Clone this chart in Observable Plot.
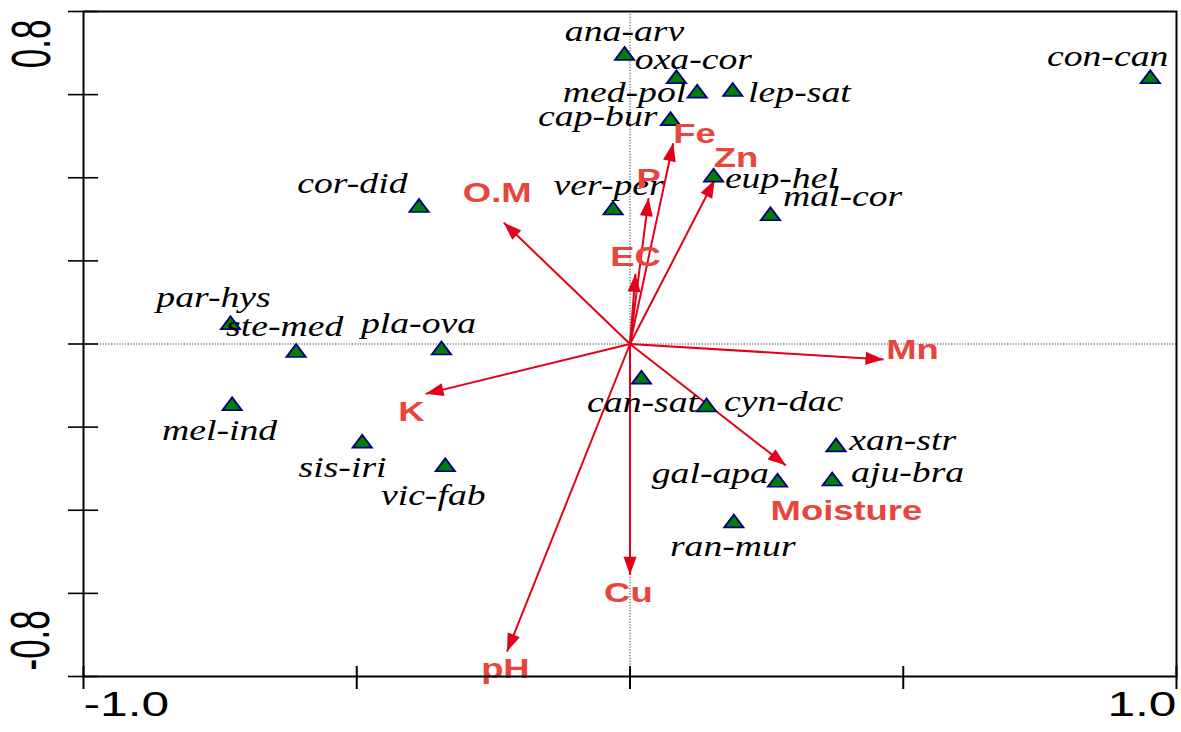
<!DOCTYPE html>
<html>
<head>
<meta charset="utf-8">
<script src="https://cdn.jsdelivr.net/npm/d3@7"></script>
<script src="https://cdn.jsdelivr.net/npm/@observablehq/plot@0.6"></script>
<style>
  html, body { margin: 0; padding: 0; background: white; }
  #chart svg { display: block; }
</style>
</head>
<body>
<div id="chart"></div>
<script>
// ---- Species scores (triangles) ----
const speciesNames = ["ana-arv","oxa-cor","med-pol","lep-sat","cap-bur","eup-hel","ver-per","mal-cor","cor-did","con-can","par-hys","ste-med","pla-ova","mel-ind","sis-iri","vic-fab","can-sat","cyn-dac","xan-str","gal-apa","aju-bra","ran-mur"];
const speciesX = [-0.010, 0.085, 0.123, 0.188, 0.074, 0.153, -0.031, 0.257, -0.386, 0.952, -0.731, -0.611, -0.345, -0.728, -0.490, -0.338, 0.021, 0.140, 0.377, 0.270, 0.370, 0.190];
const speciesY = [0.694, 0.638, 0.603, 0.607, 0.537, 0.401, 0.322, 0.308, 0.328, 0.638, 0.046, -0.021, -0.015, -0.149, -0.239, -0.296, -0.085, -0.152, -0.248, -0.333, -0.330, -0.431];
// species label positions (label centres)
const speciesLabelX = [-0.010, 0.116, -0.010, 0.310, -0.059, 0.277, -0.039, 0.389, -0.508, 0.874, -0.762, -0.632, -0.387, -0.751, -0.526, -0.360, 0.023, 0.281, 0.499, 0.147, 0.508, 0.188];
const speciesLabelY = [0.745, 0.677, 0.598, 0.598, 0.540, 0.390, 0.373, 0.347, 0.378, 0.684, 0.104, 0.034, 0.041, -0.217, -0.304, -0.373, -0.149, -0.147, -0.241, -0.320, -0.318, -0.494];

// ---- Environmental vectors (arrows) ----
const envNames = ["O.M","Fe","Zn","P","EC","Mn","K","Moisture","Cu","pH"];
const envX = [-0.231, 0.079, 0.155, 0.034, 0.010, 0.464, -0.374, 0.285, 0.000, -0.225];
const envY = [0.292, 0.483, 0.395, 0.351, 0.169, -0.037, -0.120, -0.292, -0.555, -0.740];
const envLabelX = [-0.243, 0.118, 0.194, 0.034, 0.010, 0.517, -0.400, 0.396, -0.003, -0.228];
const envLabelY = [0.364, 0.504, 0.448, 0.398, 0.210, -0.014, -0.164, -0.402, -0.600, -0.783];

// ---- Axes ----
const xTicks = [-1.0, -0.5, 0, 0.5, 1.0];
const yTicks = [-0.8, -0.6, -0.4, -0.2, 0, 0.2, 0.4, 0.6, 0.8];
const xLabelValues = [-1.0, 1.0];
const xLabelTexts = ["-1.0", "1.0"];
const yLabelValues = [0.8, -0.8];
const yLabelTexts = ["0.8", "-0.8"];

const species = speciesNames.map((name, i) => ({name, x: speciesX[i], y: speciesY[i], lx: speciesLabelX[i], ly: speciesLabelY[i]}));
const env = envNames.map((name, i) => ({name, x0: 0, y0: 0, x: envX[i], y: envY[i], lx: envLabelX[i], ly: envLabelY[i]}));

const arrowRed = "#e2001a";
const labelRed = "#e8453c";

const chart = Plot.plot({
  width: 1181,
  height: 732,
  marginLeft: 83,
  marginRight: 5,
  marginTop: 11,
  marginBottom: 56,
  x: {domain: [-1, 1]},
  y: {domain: [-0.8, 0.8]},
  style: {background: "white", overflow: "visible"},
  marks: [
    Plot.ruleX([0], {stroke: "#333", strokeWidth: 1, strokeDasharray: "1.2,1.6"}),
    Plot.ruleY([0], {stroke: "#333", strokeWidth: 1, strokeDasharray: "1.2,1.6"}),
    Plot.axisX(xTicks, {tickSize: 23, dy: -10, strokeWidth: 2, stroke: "black", tickFormat: () => ""}),
    Plot.axisY(yTicks, {tickSize: 30, dx: 15, strokeWidth: 1.6, stroke: "black", tickFormat: () => ""}),
    Plot.text([0], {x: () => xLabelValues[0], text: () => xLabelTexts[0], frameAnchor: "bottom", dy: 39, textAnchor: "start", fontFamily: "Liberation Sans, Arial, sans-serif", fontSize: 35, fill: "black"}),
    Plot.text([0], {x: () => xLabelValues[1], text: () => xLabelTexts[1], frameAnchor: "bottom", dy: 39, textAnchor: "end", fontFamily: "Liberation Sans, Arial, sans-serif", fontSize: 35, fill: "black"}),
    Plot.text([0], {y: () => yLabelValues[0], text: () => yLabelTexts[0], frameAnchor: "left", dx: -51, dy: 8, rotate: -90, textAnchor: "end", fontFamily: "Liberation Sans, Arial, sans-serif", fontSize: 35, fill: "black"}),
    Plot.text([0], {y: () => yLabelValues[1], text: () => yLabelTexts[1], frameAnchor: "left", dx: -52, dy: -6, rotate: -90, textAnchor: "start", fontFamily: "Liberation Sans, Arial, sans-serif", fontSize: 35, fill: "black"}),
    Plot.link(env, {x1: "x0", y1: "y0", x2: "x", y2: "y", stroke: arrowRed, strokeWidth: 2, markerEnd: "arrow"}),
    Plot.dot(species, {x: "x", y: "y", symbol: "triangle", r: 5.5, fill: "#008000", stroke: "#000080", strokeWidth: 1.6}),
    Plot.text(species, {x: "lx", y: "ly", text: "name", dy: -3, fontFamily: "Liberation Serif, Times New Roman, serif", fontStyle: "italic", fontSize: 29, fill: "black"}),
    Plot.text(env, {x: "lx", y: "ly", text: "name", fontFamily: "Liberation Sans, Arial, sans-serif", fontWeight: "bold", fontSize: 28, fill: labelRed}),
    Plot.frame({stroke: "black", strokeWidth: 2})
  ]
});

// Filled arrowheads
chart.querySelectorAll("marker").forEach(m => {
  const c = m.getAttribute("stroke") || arrowRed;
  m.setAttribute("viewBox", "-20 -10 22 20");
  m.setAttribute("markerWidth", "22");
  m.setAttribute("markerHeight", "20");
  m.setAttribute("markerUnits", "userSpaceOnUse");
  m.setAttribute("refX", "0");
  m.setAttribute("refY", "0");
  m.setAttribute("fill", c);
  m.setAttribute("stroke", "none");
  m.innerHTML = '<path d="M-18,-6.5L0,0L-18,6.5Z"/>';
});

// The reference is horizontally stretched: widen glyphs and triangles
chart.querySelectorAll("text").forEach(t => {
  if (!t.textContent) return;
  let tr = t.getAttribute("transform");
  if (!tr) {
    const x = t.getAttribute("x") || 0, y = t.getAttribute("y") || 0;
    tr = `translate(${x},${y})`;
    t.removeAttribute("x"); t.removeAttribute("y");
  }
  const isXLabel = xLabelTexts.includes(t.textContent) && !tr.includes("rotate");
  if (tr.includes("rotate")) t.setAttribute("transform", tr + " scale(1,1.6)");
  else t.setAttribute("transform", tr + (isXLabel ? " scale(1.42,1)" : " scale(1.3,1)"));
});
chart.querySelectorAll('g[aria-label="dot"] path').forEach(p => {
  const tr = p.getAttribute("transform");
  if (tr) p.setAttribute("transform", tr + " scale(1.3,1)");
});

document.getElementById("chart").appendChild(chart);
</script>
</body>
</html>
